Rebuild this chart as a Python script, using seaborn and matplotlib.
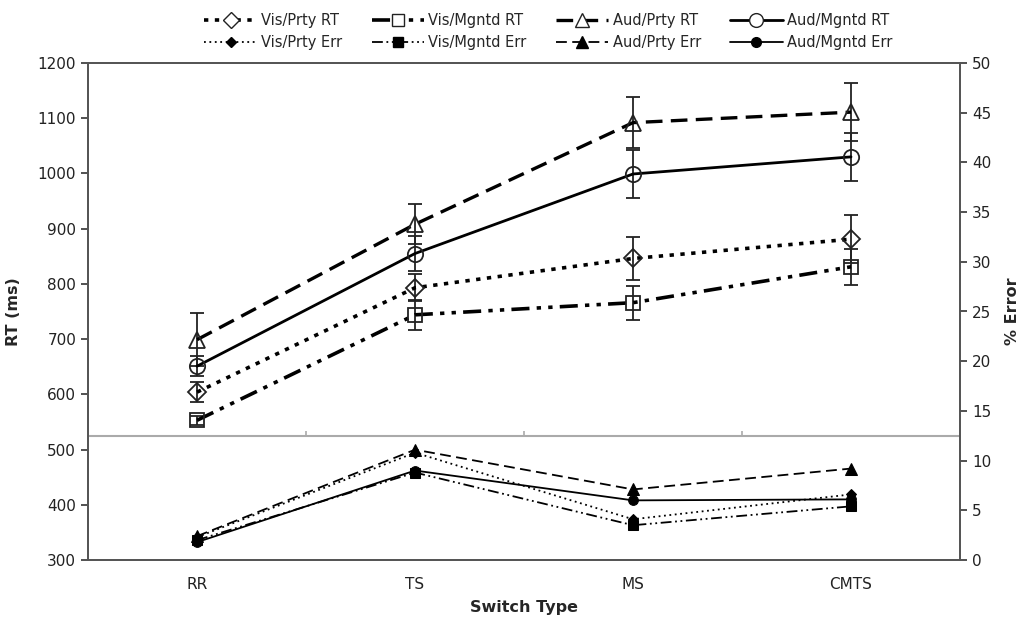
import numpy as np
import pandas as pd
import matplotlib
matplotlib.use("Agg")
import matplotlib.pyplot as plt
from matplotlib.lines import Line2D
import seaborn as sns

# ---- data ----
categories = ["RR", "TS", "MS", "CMTS"]

vis_prty_rt = [604, 793, 846, 881]
vis_prty_rt_se = [18, 24, 39, 43]
vis_mgntd_rt = [553, 744, 766, 831]
vis_mgntd_rt_se = [8, 27, 31, 33]
aud_prty_rt = [699, 908, 1092, 1111]
aud_prty_rt_se = [48, 36, 46, 52]
aud_mgntd_rt = [651, 855, 999, 1030]
aud_mgntd_rt_se = [18, 32, 43, 43]

vis_prty_err = [2.3, 10.8, 4.1, 6.6]
vis_mgntd_err = [2.0, 8.8, 3.5, 5.4]
aud_prty_err = [2.4, 11.1, 7.1, 9.2]
aud_mgntd_err = [1.8, 9.0, 6.0, 6.1]

sns.set_theme(style="white")
plt.rcParams["font.family"] = ["DejaVu Sans"]

fig = plt.figure(figsize=(10.25, 6.23), dpi=100)
ax = fig.add_axes([0.0859, 0.1011, 0.8507, 0.7978])
ax2 = ax.twinx()

x = np.arange(len(categories))

# styles for each condition
rt_styles = {
    "Vis/Prty RT": dict(ls=(0, (1.2, 1.8)), lw=2.6, marker="D", ms=9),
    "Vis/Mgntd RT": dict(ls=(0, (5, 2, 1.2, 2, 1.2, 2)), lw=2.6, marker="s", ms=10),
    "Aud/Prty RT": dict(ls=(0, (5, 2.5)), lw=2.4, marker="^", ms=11),
    "Aud/Mgntd RT": dict(ls="-", lw=2.0, marker="o", ms=11),
}
err_styles = {
    "Vis/Prty Err": dict(ls=(0, (1, 2)), lw=1.3, marker="D", ms=5),
    "Vis/Mgntd Err": dict(ls=(0, (6, 2, 1, 2, 1, 2)), lw=1.3, marker="s", ms=7),
    "Aud/Prty Err": dict(ls=(0, (6, 3)), lw=1.3, marker="^", ms=8),
    "Aud/Mgntd Err": dict(ls="-", lw=1.3, marker="o", ms=7),
}

rt_data = {
    "Vis/Prty RT": (vis_prty_rt, vis_prty_rt_se),
    "Vis/Mgntd RT": (vis_mgntd_rt, vis_mgntd_rt_se),
    "Aud/Prty RT": (aud_prty_rt, aud_prty_rt_se),
    "Aud/Mgntd RT": (aud_mgntd_rt, aud_mgntd_rt_se),
}
err_data = {
    "Vis/Prty Err": vis_prty_err,
    "Vis/Mgntd Err": vis_mgntd_err,
    "Aud/Prty Err": aud_prty_err,
    "Aud/Mgntd Err": aud_mgntd_err,
}

# reaction-time series with standard-error bars
for name, (vals, se) in rt_data.items():
    st = rt_styles[name]
    ax.errorbar(x, vals, yerr=se, fmt="none", ecolor="#222222",
                elinewidth=1.3, capsize=5, capthick=1.3, zorder=2)
    sns.lineplot(x=x, y=vals, ax=ax, color="black", linestyle=st["ls"],
                 linewidth=st["lw"], marker=st["marker"], markersize=st["ms"],
                 markerfacecolor="none", markeredgecolor="#222222",
                 markeredgewidth=1.3, zorder=3, legend=False)

# error-rate series on the secondary axis
for name, vals in err_data.items():
    st = err_styles[name]
    sns.lineplot(x=x, y=vals, ax=ax2, color="black", linestyle=st["ls"],
                 linewidth=st["lw"], marker=st["marker"], markersize=st["ms"],
                 markerfacecolor="black", markeredgecolor="black",
                 zorder=3, legend=False)

# separator between the RT and error panels
ax.axhline(525, color="#aaaaaa", lw=1.5, zorder=1)
ax.vlines([0.5, 1.5, 2.5], 525, 533, color="#aaaaaa", lw=1.2, zorder=1)

ax.set_xlim(-0.5, 3.5)
ax.set_ylim(300, 1200)
ax2.set_ylim(0, 50)
ax.set_xticks(x)
ax.set_xticklabels(categories)
ax.set_yticks(np.arange(300, 1201, 100))
ax2.set_yticks(np.arange(0, 51, 5))

for a in (ax, ax2):
    for sp in a.spines.values():
        sp.set_color("#555555")
        sp.set_linewidth(1.3)
    a.tick_params(axis="both", labelsize=11, colors="#222222", length=5,
                  width=1.1, direction="out")
    a.grid(False)
ax.tick_params(axis="x", length=0, pad=12)
ax.tick_params(axis="y", left=True, labelleft=True)
ax2.tick_params(axis="y", right=True, labelright=True)

ax.set_ylabel("RT (ms)", fontsize=11.5, fontweight="bold", labelpad=12)
ax2.set_ylabel("% Error", fontsize=11.5, fontweight="bold", labelpad=10)
ax.set_xlabel("Switch Type", fontsize=11.5, fontweight="bold", labelpad=6)

# legend: RT entries on the top row, error entries below
handles, labels = [], []
for rt_name, err_name in zip(rt_styles, err_styles):
    s = rt_styles[rt_name]
    handles.append(Line2D([], [], color="black", linestyle=s["ls"], linewidth=s["lw"],
                          marker=s["marker"], markersize=s["ms"] * 0.9,
                          markerfacecolor="white", markeredgecolor="#222222"))
    labels.append(rt_name)
    s = err_styles[err_name]
    handles.append(Line2D([], [], color="black", linestyle=s["ls"], linewidth=s["lw"],
                          marker=s["marker"], markersize=s["ms"],
                          markerfacecolor="black", markeredgecolor="black"))
    labels.append(err_name)

fig.legend(handles, labels, ncol=4, loc="upper center", bbox_to_anchor=(0.535, 1.0),
           frameon=False, fontsize=10.5, handlelength=3.6, columnspacing=2.0,
           handletextpad=0.3, labelspacing=0.45)

fig.savefig("out.png", dpi=100)
